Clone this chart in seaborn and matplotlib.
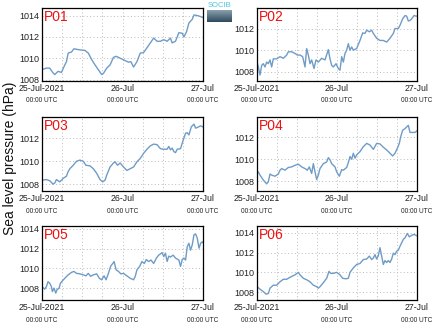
import numpy as np
import pandas as pd
import matplotlib
matplotlib.use("Agg")
import matplotlib.pyplot as plt
import matplotlib.dates as mdates
import seaborn as sns

# Hourly offsets from 25-Jul-2021 00:00 UTC and sea level pressure (hPa) per station
p01_hours = [0, 1.3, 2.3, 3.3, 3.8, 4.8, 5.8, 6.8, 7.3, 7.8, 8.8, 9.5, 11.3, 12.8, 13.8, 14.8,
             15.8, 16.8, 17.8, 18.3, 19.3, 20.3, 21.3, 22.1, 22.8, 23.8, 24.8, 25.8, 26.5, 27.3,
             28.3, 29.3, 30.3, 31.3, 32.3, 33.3, 34.3, 35.3, 36.3, 37.3, 38.3, 38.8, 39.8, 40.8,
             41.8, 42.3, 43.1, 43.8, 44.8, 45.3, 46.3, 47.3, 48.0]
p01_hpa = [1008.96, 1009.1, 1009.1, 1008.65, 1008.5, 1008.8, 1008.7, 1009.4, 1009.7, 1010.5,
           1010.6, 1010.9, 1010.8, 1010.75, 1010.5, 1009.9, 1009.4, 1008.95, 1008.5, 1008.6,
           1009.1, 1009.4, 1010.1, 1010.2, 1010.1, 1009.95, 1009.8, 1009.65, 1009.7, 1009.2,
           1009.7, 1010.5, 1010.55, 1011.0, 1011.45, 1011.9, 1011.6, 1011.6, 1011.75, 1011.6,
           1011.9, 1011.45, 1011.6, 1012.4, 1012.35, 1012.0, 1012.5, 1013.3, 1013.65, 1014.05,
           1014.0, 1013.9, 1013.8]

p02_hours = [0.0, 0.4, 0.9, 1.4, 1.9, 2.4, 2.9, 3.4, 3.9, 4.4, 4.9, 5.9, 6.9, 7.9, 8.9, 9.4,
             10.4, 11.4, 12.1, 12.9, 13.7, 14.4, 14.9, 15.4, 15.9, 16.4, 17.1, 17.7, 18.4, 19.4,
             20.4, 21.4, 21.9, 22.4, 22.9, 23.7, 24.4, 24.9, 25.4, 25.9, 26.4, 26.9, 27.4, 27.9,
             28.4, 28.9, 29.9, 30.9, 31.7, 32.4, 32.9, 33.7, 34.4, 34.9, 35.9, 36.9, 37.9, 38.9,
             39.9, 40.9, 41.4, 42.4, 42.9, 43.7, 44.4, 44.9, 45.4, 45.9, 46.4, 47.1, 47.7, 48.0]
p02_hpa = [1008.9, 1008.45, 1007.7, 1008.6, 1008.75, 1008.45, 1008.9, 1008.75, 1009.1, 1008.45,
           1009.2, 1009.2, 1009.4, 1009.25, 1009.55, 1009.85, 1009.85, 1009.7, 1009.55, 1009.55,
           1009.4, 1008.45, 1010.15, 1009.55, 1008.75, 1009.1, 1008.3, 1009.1, 1008.9, 1009.25,
           1009.1, 1010.05, 1009.2, 1008.6, 1008.45, 1008.75, 1008.3, 1008.15, 1009.4, 1008.9,
           1009.7, 1010.0, 1010.6, 1010.0, 1010.3, 1010.0, 1010.15, 1010.9, 1011.6, 1011.55,
           1011.85, 1011.7, 1011.85, 1011.55, 1011.1, 1010.9, 1010.9, 1010.75, 1011.1, 1011.55,
           1012.0, 1012.0, 1012.3, 1012.9, 1013.2, 1013.15, 1012.7, 1012.75, 1012.9, 1013.2,
           1013.15, 1013.15]

p03_hours = [0, 1.3, 2.3, 3.3, 3.8, 4.3, 5.3, 6.3, 7.3, 7.8, 8.3, 9.3, 10.3, 11.3, 12.3, 13.1,
             14.3, 15.3, 16.3, 17.3, 18.1, 18.8, 19.3, 20.3, 21.3, 21.8, 22.5, 23.3, 24.3, 25.3,
             26.3, 27.3, 28.3, 29.3, 30.3, 31.3, 32.3, 33.3, 34.3, 35.3, 36.3, 37.3, 37.8, 38.3,
             38.8, 39.3, 39.8, 40.3, 41.3, 42.1, 42.8, 43.3, 43.8, 44.5, 45.3, 45.8, 46.3, 47.3,
             48.0]
p03_hpa = [1008.35, 1008.4, 1008.3, 1008.0, 1008.1, 1008.4, 1008.2, 1008.5, 1008.7, 1009.1,
           1009.35, 1009.65, 1010.0, 1010.1, 1010.0, 1009.65, 1009.6, 1009.35, 1008.95, 1008.4,
           1008.2, 1008.35, 1008.8, 1009.5, 1009.85, 1009.95, 1009.65, 1009.85, 1009.5, 1009.2,
           1009.35, 1009.5, 1009.95, 1010.25, 1010.7, 1011.05, 1011.35, 1011.5, 1011.45, 1011.1,
           1011.05, 1011.05, 1011.3, 1011.0, 1011.15, 1010.85, 1010.75, 1011.05, 1011.1, 1011.85,
           1012.45, 1012.5, 1012.3, 1013.0, 1013.25, 1012.9, 1012.95, 1013.1, 1013.0]

p04_hours = [0, 0.4, 0.9, 1.9, 2.9, 3.4, 3.9, 4.4, 5.4, 6.4, 6.9, 7.4, 8.4, 9.4, 10.4, 11.4,
             12.4, 13.4, 14.4, 15.1, 15.7, 16.4, 16.9, 17.4, 17.9, 18.4, 18.9, 19.9, 20.9, 21.4,
             21.9, 22.4, 23.4, 23.9, 24.7, 25.4, 25.9, 26.9, 27.4, 27.9, 28.4, 28.9, 29.4, 29.9,
             30.9, 31.9, 32.9, 33.9, 34.9, 35.9, 36.9, 37.9, 38.9, 39.9, 40.7, 41.4, 42.1, 42.7,
             43.1, 43.7, 44.4, 45.4, 45.9, 46.9, 47.4, 48.0]
p04_hpa = [1008.7, 1008.85, 1008.55, 1008.1, 1007.75, 1007.95, 1008.65, 1008.55, 1008.45,
           1008.65, 1009.0, 1009.15, 1009.0, 1009.25, 1009.3, 1009.45, 1009.55, 1009.3, 1009.15,
           1009.0, 1009.3, 1008.7, 1009.6, 1008.85, 1008.15, 1008.55, 1009.15, 1009.6, 1009.75,
           1010.15, 1009.95, 1009.6, 1009.3, 1008.85, 1008.45, 1009.05, 1009.0, 1009.25, 1009.7,
           1010.25, 1010.0, 1010.55, 1010.1, 1010.4, 1010.7, 1011.15, 1011.45, 1011.3, 1010.9,
           1011.45, 1011.4, 1011.1, 1010.85, 1010.55, 1010.3, 1010.55, 1011.0, 1011.45, 1012.05,
           1012.65, 1012.8, 1013.1, 1012.45, 1012.45, 1012.45, 1012.6]

p05_hours = [0, 0.8, 1.3, 1.8, 2.3, 2.8, 3.1, 3.6, 4.1, 4.5, 5.1, 5.5, 6.1, 6.8, 7.8, 8.8, 9.5,
             10.3, 11.3, 12.3, 13.1, 13.8, 14.5, 15.3, 16.3, 17.1, 17.8, 18.5, 19.1, 19.8, 20.5,
             21.1, 21.5, 22.1, 22.8, 23.5, 24.3, 25.3, 26.3, 27.3, 27.8, 28.3, 29.1, 29.8, 30.5,
             31.1, 31.8, 32.5, 33.3, 34.1, 34.8, 35.8, 36.3, 36.8, 37.3, 37.8, 38.3, 39.1, 39.8,
             40.8, 41.3, 41.8, 42.3, 42.8, 43.3, 43.8, 44.3, 44.8, 45.3, 45.8, 46.3, 46.8, 47.3,
             47.8, 48.0]
p05_hpa = [1008.15, 1007.9, 1008.15, 1008.65, 1008.5, 1008.15, 1007.65, 1008.0, 1007.5,
           1007.85, 1008.0, 1008.5, 1008.75, 1009.0, 1009.35, 1009.6, 1009.7, 1009.5, 1009.45,
           1009.35, 1009.25, 1009.5, 1009.2, 1009.35, 1009.45, 1009.0, 1008.85, 1009.25, 1008.85,
           1009.5, 1010.25, 1010.5, 1010.7, 1009.85, 1009.7, 1009.45, 1009.5, 1009.25, 1009.0,
           1008.85, 1009.2, 1009.85, 1010.2, 1010.7, 1010.5, 1010.9, 1010.7, 1010.85, 1010.5,
           1011.05, 1011.35, 1011.6, 1011.2, 1011.55, 1010.7, 1011.25, 1011.15, 1011.35, 1011.05,
           1010.85, 1010.2, 1010.9, 1011.05, 1010.85, 1012.2, 1012.55, 1011.85, 1012.4, 1013.4,
           1013.5, 1013.05, 1012.05, 1012.55, 1012.7, 1012.6]

p06_hours = [0, 0.9, 1.9, 2.7, 3.4, 3.9, 4.9, 5.9, 6.9, 7.9, 8.9, 9.9, 11.4, 12.4, 12.9, 13.9,
             14.9, 15.9, 16.9, 17.9, 18.4, 18.9, 19.9, 20.9, 21.6, 22.1, 22.9, 23.9, 24.9, 25.7,
             26.7, 27.4, 27.9, 28.9, 29.9, 30.9, 31.9, 32.9, 33.7, 34.4, 34.9, 35.4, 35.9, 36.4,
             36.9, 37.4, 37.9, 38.4, 38.9, 39.4, 39.9, 40.4, 40.9, 41.4, 41.9, 42.4, 42.9, 43.4,
             43.9, 44.4, 45.1, 45.7, 46.4, 47.1, 48.0]
p06_hpa = [1008.55, 1008.3, 1008.05, 1007.8, 1007.85, 1008.4, 1008.7, 1008.7, 1009.05,
           1009.3, 1009.3, 1009.5, 1009.75, 1010.0, 1009.75, 1009.4, 1009.25, 1009.05, 1008.7,
           1008.55, 1008.4, 1008.55, 1008.95, 1009.4, 1010.1, 1009.9, 1009.9, 1010.0, 1009.75,
           1009.4, 1009.35, 1009.4, 1010.0, 1010.45, 1010.8, 1010.9, 1011.3, 1011.35, 1011.65,
           1011.3, 1011.45, 1011.8, 1011.35, 1011.7, 1012.5, 1011.65, 1010.8, 1011.2, 1011.0,
           1011.2, 1011.0, 1011.35, 1011.95, 1011.8, 1012.15, 1012.25, 1012.65, 1013.0, 1013.35,
           1013.5, 1013.95, 1013.6, 1013.75, 1013.85, 1013.7]

station_names = ["P01", "P02", "P03", "P04", "P05", "P06"]
station_hours = [p01_hours, p02_hours, p03_hours, p04_hours, p05_hours, p06_hours]
station_hpa = [p01_hpa, p02_hpa, p03_hpa, p04_hpa, p05_hpa, p06_hpa]
y_limits = [(1007.9, 1014.7), (1007.15, 1013.9), (1007.4, 1013.87),
            (1007.1, 1013.86), (1006.8, 1014.3), (1007.2, 1014.7)]
y_ticks = [[1008, 1010, 1012, 1014], [1008, 1010, 1012], [1008, 1010, 1012],
           [1008, 1010, 1012], [1008, 1010, 1012, 1014], [1008, 1010, 1012, 1014]]
day_labels = ["25-Jul-2021", "26-Jul", "27-Jul"]
time_labels = ["00:00 UTC", "00:00 UTC", "00:00 UTC"]

start = pd.Timestamp("2021-07-25 00:00")
day_ticks = [start + pd.Timedelta(days=d) for d in range(3)]

sns.set_theme(style="white")
plt.rcParams["font.family"] = ["Liberation Sans", "DejaVu Sans"]

fig = plt.figure(figsize=(4.35, 3.27), dpi=100)
W, H = 435.0, 327.0
col_px = [(42, 161), (257, 160)]
row_px = [(8, 81), (117, 191), (226, 300)]

line_color = "#6f9cc7"

for i, name in enumerate(station_names):
    r, c = divmod(i, 2)
    x0, w = col_px[c]
    top, bot = row_px[r]
    ax = fig.add_axes([x0 / W, 1 - bot / H, w / W, (bot - top) / H])
    df = pd.DataFrame({
        "time": [start + pd.Timedelta(hours=h) for h in station_hours[i]],
        "pressure": station_hpa[i],
    })
    sns.lineplot(data=df, x="time", y="pressure", ax=ax, color=line_color, lw=1.0)
    ax.set_xlim(day_ticks[0], day_ticks[-1])
    ax.set_ylim(*y_limits[i])
    ax.set_xlabel("")
    ax.set_ylabel("")
    ax.set_yticks(y_ticks[i])
    ax.set_yticklabels([str(t) for t in y_ticks[i]], fontsize=6.5, color="#222222")
    ax.set_xticks(day_ticks)
    ax.set_xticklabels(day_labels, fontsize=6.3, color="#222222")
    ax.xaxis.set_minor_locator(mdates.HourLocator(byhour=[0, 6, 12, 18]))
    ax.tick_params(axis="x", which="both", direction="in", length=2, pad=2.5, color="#333333")
    ax.tick_params(axis="y", which="both", direction="in", length=2, pad=2, color="#333333")
    ax.grid(True, which="both", axis="x", color="#bbbbbb", ls=(0, (1, 2.5)), lw=0.7)
    ax.grid(True, which="major", axis="y", color="#bbbbbb", ls=(0, (1, 2.5)), lw=0.7)
    for s in ax.spines.values():
        s.set_color("black")
        s.set_linewidth(0.9)
    for t, lab in zip(day_ticks, time_labels):
        ax.text(mdates.date2num(t), -0.225, lab, transform=ax.get_xaxis_transform(),
                ha="center", va="top", fontsize=4.7, color="#222222")
    ax.text(0.012, 0.97, name, transform=ax.transAxes, ha="left", va="top",
            fontsize=10, color="#ee1111")

fig.text(10 / W, 1 - 158 / H, "Sea level pressure (hPa)", rotation=90, ha="center",
         va="center", fontsize=10, color="#111111")

# small institutional badge in the top gap between the columns
logo = fig.add_axes([207 / W, 1 - 22 / H, 25 / W, 12 / H])
grad = np.linspace(0, 1, 50).reshape(-1, 1)
logo.imshow(grad, aspect="auto", cmap=sns.blend_palette(["#8aa0ad", "#2e4a5c"], as_cmap=True),
            extent=[0, 1, 0, 1])
logo.axis("off")
fig.text(219.5 / W, 1 - 5.5 / H, "SOCIB", ha="center", va="center", fontsize=5.5,
         color="#4cc4dc")

fig.savefig("out.png", dpi=100)
